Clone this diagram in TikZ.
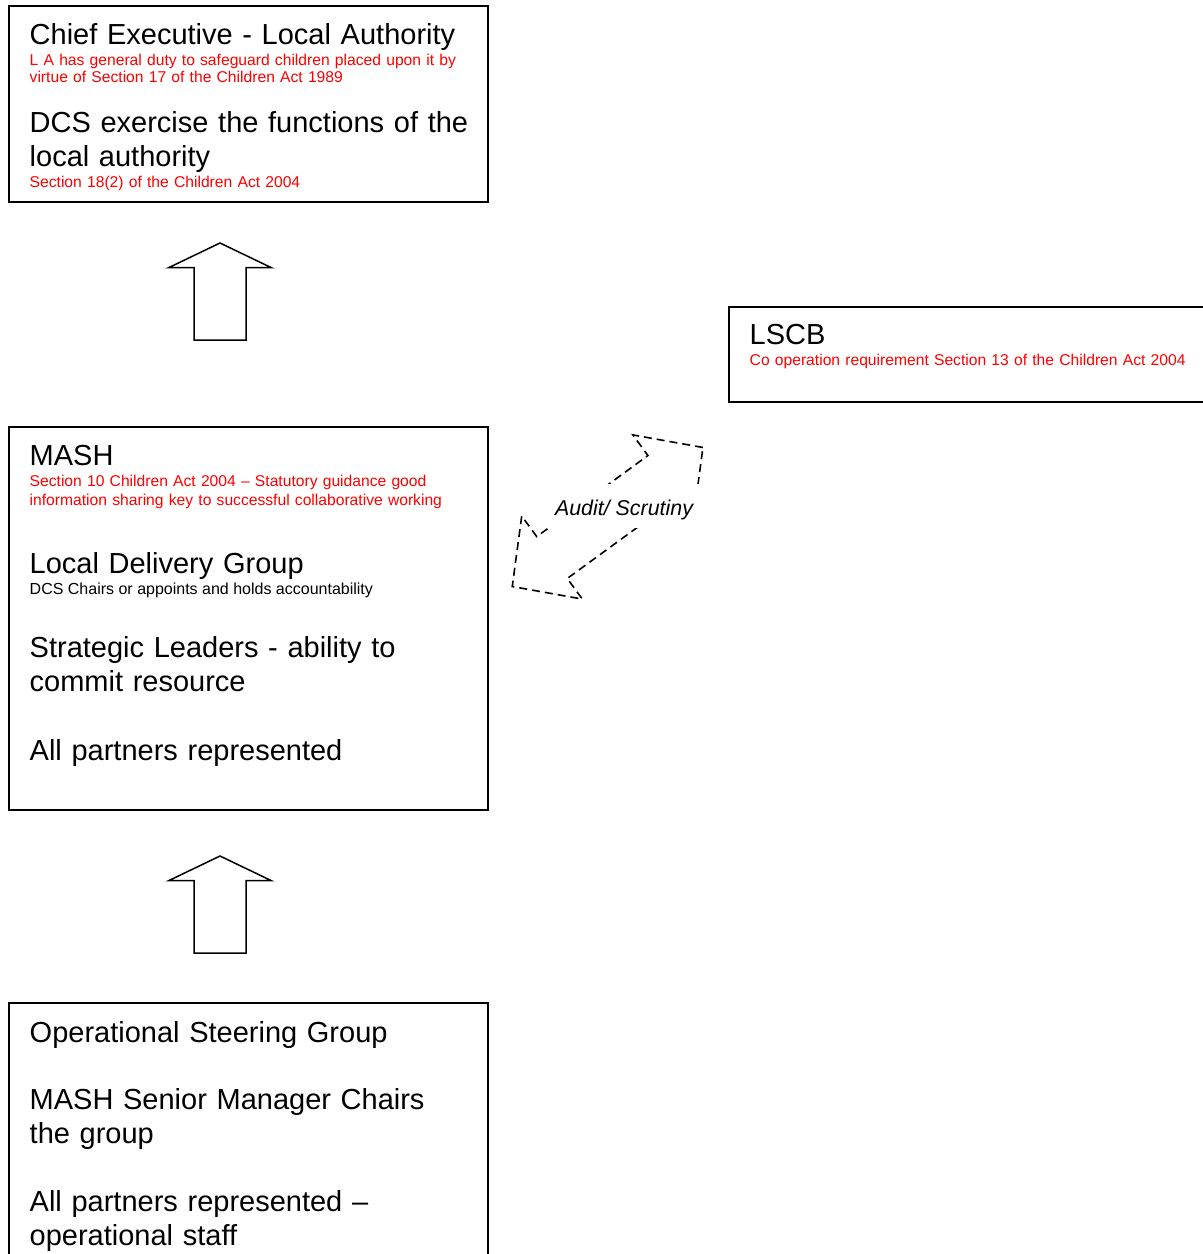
\documentclass[tikz,border=0pt]{standalone}
\usepackage{fontspec}
\setmainfont{Liberation Sans}
\usepackage{tikz}

\tikzset{
  box/.style={draw, line width=1.7pt},
  uparrow/.style={draw, line width=1.5pt, line join=miter},
  bigtxt/.style={anchor=base west, inner sep=0pt, text width=600pt, align=left, font=\fontsize{29}{34}\selectfont},
  redtxt/.style={anchor=base west, inner sep=0pt, text width=600pt, align=left, text=red, font=\fontsize{15.65}{17.4}\selectfont},
  smalltxt/.style={anchor=base west, inner sep=0pt, font=\fontsize{16}{17.4}\selectfont},
  audittxt/.style={anchor=base, inner sep=0pt, font=\fontsize{21.4}{24}\selectfont\itshape}
}

\begin{document}
\begin{tikzpicture}[x=1pt,y=-1pt]
\useasboundingbox (0,0) rectangle (1203,1254);

% boxes
\draw[box] (9,6) rectangle (488,202);
\draw[box] (729,307) rectangle (1215,402);
\draw[box] (9,427) rectangle (488,810);
\draw[box] (9,1003) rectangle (488,1270);

% block arrows
\foreach \ty in {243,856}
  \draw[uparrow] (220,\ty) -- (271,\ty+24.5) -- (246,\ty+24.5) -- (246,\ty+97)
    -- (194,\ty+97) -- (194,\ty+24.5) -- (169,\ty+24.5) -- cycle;

\begin{scope}[shift={(607.6,517)}, rotate=36.1]
\draw[dash pattern=on 8pt off 5pt, line width=1.6pt] (118,0) -- (68.8,-51.4) -- (68.8,-25.9)
  -- (-68.8,-25.9) -- (-68.8,-51.4) -- (-118,0) -- (-68.8,51.4) -- (-68.8,25.9)
  -- (68.8,25.9) -- (68.8,51.4) -- cycle;
\end{scope}

\fill[white] (545,484) rectangle (705,528);
\node[audittxt] (audit) at (624,515) {Audit/ Scrutiny};

% texts
\node[bigtxt] (chief) at (29.5,44) {Chief Executive - Local Authority};
\node[redtxt] (chiefduty) at (29.5,65) {L A has general duty to safeguard children placed upon it by\\virtue of Section 17 of the Children Act 1989};
\node[bigtxt] (dcs) at (29.5,132) {DCS exercise the functions of the\\local authority};
\node[redtxt] (dcslaw) at (29.5,187) {Section 18(2) of the Children Act 2004};

\node[bigtxt] (lscb) at (749.5,344) {LSCB};
\node[redtxt] (lscblaw) at (749.5,365) {Co operation requirement Section 13 of the Children Act 2004};

\node[bigtxt] (mash) at (29.5,465) {MASH};
\node[redtxt, font=\fontsize{15.65}{19}\selectfont] (mashlaw) at (29.5,486) {Section 10 Children Act 2004 – Statutory guidance good\\information sharing key to successful collaborative working};
\node[bigtxt] (ldg) at (29.5,573) {Local Delivery Group};
\node[smalltxt] (ldgchair) at (29.5,594) {DCS Chairs or appoints and holds accountability};
\node[bigtxt] (leaders) at (29.5,657) {Strategic Leaders - ability to\\commit resource};
\node[bigtxt] (partners) at (29.5,760) {All partners represented};

\node[bigtxt] (osg) at (29.5,1042) {Operational Steering Group};
\node[bigtxt] (osgchair) at (29.5,1109) {MASH Senior Manager Chairs\\the group};
\node[bigtxt] (osgstaff) at (29.5,1211) {All partners represented –\\operational staff};
\end{tikzpicture}
\end{document}
